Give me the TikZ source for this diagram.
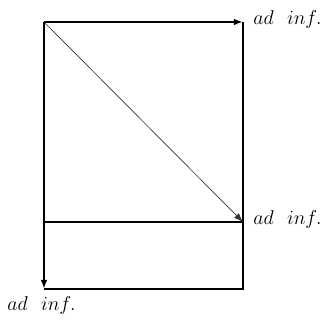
\documentclass[tikz,border=0pt]{standalone}
\usetikzlibrary{arrows.meta,positioning}
\tikzset{
  vonal/.style={line width=1.1pt},
  atlo/.style={line width=0.4pt,black!80},
  nyil/.style={-{Latex[length=5.5pt,width=4pt]}},
  cimke/.style={font=\fontsize{12.3}{15}\selectfont,inner sep=0pt},
}
\begin{document}
\begin{tikzpicture}[x=0.6pt,y=-0.6pt]
  \useasboundingbox (0,0) rectangle (328,320);
  % sarkok
  \coordinate (bf) at (44,22);
  \coordinate (jf) at (243,22);
  \coordinate (bk) at (44,222);
  \coordinate (jk) at (243,222);
  \coordinate (ba) at (44,289);
  \coordinate (ja) at (243,289);
  % keret
  \draw[vonal,nyil] (bf) -- (jf);
  \draw[vonal] (jf) -- (ja) -- (ba);
  \draw[vonal,nyil] (bf) -- (ba);
  \draw[vonal] (bk) -- (jk);
  \draw[atlo,nyil] (bf) -- (jk);
  % cimkek
  \node[cimke,anchor=west] (c1) at (253,20) {$ad\ \ inf.$};
  \node[cimke,anchor=west] (c2) at (253,220) {$ad\ \ inf.$};
  \node[cimke,anchor=west] (c3) at (7,306) {$ad\ \ inf.$};
\end{tikzpicture}
\end{document}
